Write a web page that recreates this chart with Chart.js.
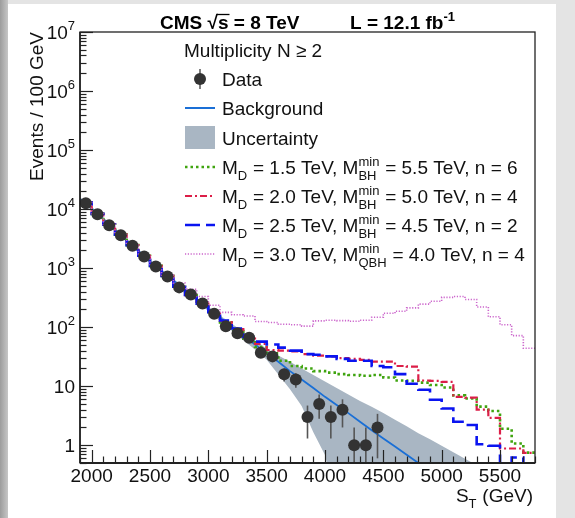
<!DOCTYPE html>
<html><head><meta charset="utf-8">
<script src="https://cdn.jsdelivr.net/npm/chart.js@4.4.1/dist/chart.umd.min.js"></script>
<style>
html,body{margin:0;padding:0;width:575px;height:518px;overflow:hidden;background:#e4e4e4;}
#strip{position:absolute;left:0;top:0;width:8px;height:518px;background:linear-gradient(to right,#9c9c9c,#c6c6c6);}
#panel{position:absolute;left:8px;top:4px;width:548px;height:514px;background:#fff;}
canvas{position:absolute;left:0;top:0;}
</style></head><body>
<div id="strip"></div><div id="panel"></div>
<canvas id="c" width="575" height="518"></canvas>
<script>
// ---------------- data ----------------
const binCenters = [1950,2050,2150,2250,2350,2450,2550,2650,2750,2850,2950,3050,3150,3250,3350,3450,3550,3650,3750,3850,3950,4050,4150,4250,4350,4450,4550,4650,4750,4850,4950,5050,5150,5250,5350,5450,5550,5650,5750];

const dataSt     = [1950,2050,2150,2250,2350,2450,2550,2650,2750,2850,2950,3050,3150,3250,3350,3450,3550,3650,3750,3850,3950,4050,4150,4250,4350,4450];
const dataCounts = [12600,8200,5350,3620,2390,1580,1070,724,472,356,251,168,104,79,66,37,32,16,13,3,5,3,4,1,1,2];
const dataErr    = [112,91,73,60,49,40,33,27,22,19,16,13,10,9,8,6,5.7,4,3.6,1.7,2.2,1.7,2,1,1,1.4];

const bkgSt  = [1900,2000,2100,2200,2300,2400,2500,2600,2700,2800,2900,3000,3100,3200,3300,3400,3500,3600,3700,3800,3900,4000,4100,4200,4300,4400,4500,4600,4700,4800];
const bkgFit = [14800,10200,6760,4470,2950,1950,1290,891,617,427,295,204,145,102,72,51,36,26,18,13,9.3,6.6,4.8,3.5,2.5,1.8,1.3,0.95,0.69,0.50];

const bandSt = [1900,2000,2100,2200,2300,2400,2500,2600,2700,2800,2900,3000,3100,3200,3300,3400,3500,3600,3700,3800,3900,4000,4100,4200,4300,4400,4500,4600,4700,4800,4900,5000,5100,5200,5300];
const bandUp = [15800,11000,7240,4790,3160,2090,1380,955,661,457,316,224,158,115,83,60,43,33,26,20,15.5,12,9.3,7.2,5.6,4.5,3.5,2.7,2.1,1.6,1.26,0.98,0.76,0.59,0.46];
const bandLo = [13800,9550,6310,4170,2750,1820,1200,832,575,398,275,186,126,87,60,42,28,15.8,8.9,4.6,1.66,0.68,0.1,0.1,0.1,0.1,0.1,0.1,0.1,0.1,0.1,0.1,0.1,0.1,0.1];

const sigMD15 = [12900,8300,5500,3700,2450,1620,1090,740,485,350,250,172,120,86,64,46,36,27,22,20,18,17,16,15.5,15,15.5,14,12.5,12.3,11.5,10.5,9.5,7.0,6.2,4.5,3.8,1.9,1.07,0.75];
const sigMD20 = [12900,8300,5500,3700,2450,1620,1090,740,485,350,250,178,128,93,68,52,41,40,39,35,33,32,30,29,28,26,26,22,21.5,12.5,12.3,11.8,6.6,6.4,4.0,2.9,0.88,0.88,0.74];
const sigMD25 = [12900,8300,5500,3700,2450,1620,1090,740,485,350,250,180,130,95,68,57,51,45,40,35,34,32,29,27,27,22,21,16,11,8.7,5.9,4.2,2.5,2.2,1.04,0.98,0.3,0.62,0.4];
const sigMD30 = [12900,8300,5500,3700,2450,1620,1090,760,560,440,330,235,178,162,155,125,120,112,110,104,128,131,129,126,131,147,172,186,212,246,274,320,330,295,220,150,110,72,44];

const xTickValues = [2000,2500,3000,3500,4000,4500,5000,5500];
const yTickValues = [1,10,100,1e3,1e4,1e5,1e6,1e7];
const yTickLabels = ['1','10','10^2','10^3','10^4','10^5','10^6','10^7'];

// ---------------- styles ----------------
const FONT = '"Liberation Sans", Arial, Helvetica, sans-serif';
const C_BKG = '#1a6fd6', C_BAND = '#a9b6c3', C_DATA = '#333333';
const ST_MD15 = {color:'#3fa40f', width:2.6, dash:[2.5,3]};
const ST_MD20 = {color:'#dc1e48', width:2.2, dash:[7,3,2,3]};
const ST_MD25 = {color:'#0a14f0', width:2.6, dash:[15,6]};
const ST_MD30 = {color:'#cc66cc', width:1.6, dash:[1.2,1.6]};

function hist(vals){
  const pts = vals.map((v,i)=>({x:binCenters[i]-50, y:v}));
  pts.push({x:binCenters[binCenters.length-1]+50, y:vals[vals.length-1]});
  return pts;
}
function pairs(xs, ys){ return xs.map((x,i)=>({x:x, y:ys[i]})); }
function histDs(vals, st, order){
  return {data:hist(vals), stepped:true, borderColor:st.color, borderWidth:st.width, borderDash:st.dash,
          pointRadius:0, fill:false, order:order};
}

function richText(ctx, x, y, parts, size, bold, measureOnly){
  const base = (bold?'bold ':'') + size + 'px ' + FONT;
  const small = (bold?'bold ':'') + Math.round(size*0.68) + 'px ' + FONT;
  ctx.textAlign = 'left'; ctx.textBaseline = 'alphabetic';
  let cx = x;
  for (const p of parts){
    if (typeof p === 'string'){
      ctx.font = base;
      if (!measureOnly) ctx.fillText(p, cx, y);
      cx += ctx.measureText(p).width;
    } else {
      ctx.font = small; let w = 0;
      if (p.sub){ if(!measureOnly) ctx.fillText(p.sub, cx, y + size*0.32); w = Math.max(w, ctx.measureText(p.sub).width); }
      if (p.sup){ if(!measureOnly) ctx.fillText(p.sup, cx, y - size*0.42); w = Math.max(w, ctx.measureText(p.sup).width); }
      cx += w + 0.5;
    }
  }
  return cx - x;
}

const legendHeader = 'Multiplicity N \u2265 2';
const legendItems = [
  {kind:'data', parts:['Data']},
  {kind:'line', style:{color:C_BKG, width:2, dash:[]}, parts:['Background']},
  {kind:'box', parts:['Uncertainty']},
  {kind:'line', style:ST_MD15, parts:['M',{sub:'D'},' = 1.5 TeV, M',{sub:'BH',sup:'min'},' = 5.5 TeV, n = 6']},
  {kind:'line', style:ST_MD20, parts:['M',{sub:'D'},' = 2.0 TeV, M',{sub:'BH',sup:'min'},' = 5.0 TeV, n = 4']},
  {kind:'line', style:ST_MD25, parts:['M',{sub:'D'},' = 2.5 TeV, M',{sub:'BH',sup:'min'},' = 4.5 TeV, n = 2']},
  {kind:'line', style:ST_MD30, parts:['M',{sub:'D'},' = 3.0 TeV, M',{sub:'QBH',sup:'min'},' = 4.0 TeV, n = 4']}
];

const rootPlugin = {
  id:'rootStyle',
  beforeDatasetDraw(chart, args){
    if (args.index !== 0) return;
    const ctx = chart.ctx, xs = chart.scales.x, ys = chart.scales.y, a = chart.chartArea;
    ctx.save();
    ctx.beginPath(); ctx.rect(a.left, a.top, a.right-a.left, a.bottom-a.top); ctx.clip();
    ctx.strokeStyle = '#555'; ctx.lineWidth = 1.6;
    dataSt.forEach((s,i)=>{
      const x = xs.getPixelForValue(s);
      const hi = dataCounts[i] + dataErr[i], lo = dataCounts[i] - dataErr[i];
      const y1 = ys.getPixelForValue(hi);
      const y2 = lo > 0 ? ys.getPixelForValue(lo) : a.bottom + 5;
      ctx.beginPath(); ctx.moveTo(x, y1); ctx.lineTo(x, y2); ctx.stroke();
    });
    ctx.restore();
  },
  afterDraw(chart){
    const ctx = chart.ctx, xs = chart.scales.x, ys = chart.scales.y, a = chart.chartArea;
    ctx.save();
    // frame
    ctx.strokeStyle = '#222'; ctx.lineWidth = 1.3;
    ctx.strokeRect(a.left, a.top, a.right-a.left, a.bottom-a.top);
    ctx.lineWidth = 2.2;
    ctx.beginPath(); ctx.moveTo(a.left, a.bottom); ctx.lineTo(a.right, a.bottom); ctx.stroke();
    ctx.lineWidth = 1.6;
    ctx.beginPath(); ctx.moveTo(a.left, a.top); ctx.lineTo(a.left, a.bottom); ctx.stroke();
    // y ticks
    ctx.lineWidth = 1.2; ctx.strokeStyle = '#222';
    for (let d = -1; d <= 7; d++){
      for (let m = 1; m <= 9; m++){
        const v = m * Math.pow(10, d);
        if (v < 0.5 || v > 1e7 * 1.0001) continue;
        const y = Math.round(ys.getPixelForValue(v)) + 0.5;
        const len = m === 1 ? 13 : 6.5;
        ctx.beginPath(); ctx.moveTo(a.left, y); ctx.lineTo(a.left + len, y); ctx.stroke();
      }
    }
    // x ticks
    for (let v = 1900; v <= 5800; v += 100){
      const x = Math.round(xs.getPixelForValue(v)) + 0.5;
      const len = v % 500 === 0 ? 13 : 6.5;
      ctx.beginPath(); ctx.moveTo(x, a.bottom); ctx.lineTo(x, a.bottom - len); ctx.stroke();
    }
    ctx.fillStyle = '#111';
    // x labels
    ctx.font = '19px ' + FONT; ctx.textAlign = 'center'; ctx.textBaseline = 'alphabetic';
    xTickValues.forEach(v => ctx.fillText(String(v), xs.getPixelForValue(v), 482));
    // y labels
    yTickValues.forEach((v,i) => {
      const y = ys.getPixelForValue(v);
      const lab = yTickLabels[i];
      const right = 75;
      if (lab.indexOf('^') < 0){
        ctx.font = '19px ' + FONT; ctx.textAlign = 'right';
        ctx.fillText(lab, right, y + 7);
      } else {
        const [b, e] = lab.split('^');
        ctx.font = '13px ' + FONT; const we = ctx.measureText(e).width;
        ctx.textAlign = 'right'; ctx.fillText(e, right, y - 2);
        ctx.font = '19px ' + FONT; ctx.fillText(b, right - we, y + 7);
      }
    });
    // axis titles
    ctx.save();
    ctx.translate(43, 32); ctx.rotate(-Math.PI/2);
    ctx.font = '19px ' + FONT; ctx.textAlign = 'right'; ctx.textBaseline = 'alphabetic';
    ctx.fillText('Events / 100 GeV', 0, 0);
    ctx.restore();
    const xtParts = ['S',{sub:'T'},' (GeV)'];
    const wxt = richText(ctx, 0, 0, xtParts, 19, false, true);
    richText(ctx, 533 - wxt, 502, xtParts, 19, false, false);
    // title
    ctx.fillStyle = '#000';
    const t1 = 'CMS \u221As = 8 TeV';
    ctx.font = 'bold 19px ' + FONT; ctx.textAlign = 'left';
    ctx.fillText(t1, 160, 29);
    const wPre = ctx.measureText('CMS \u221A').width, wS = ctx.measureText('s').width;
    ctx.lineWidth = 1.3; ctx.strokeStyle = '#000';
    ctx.beginPath(); ctx.moveTo(160 + wPre - 1, 14.5); ctx.lineTo(160 + wPre + wS + 1, 14.5); ctx.stroke();
    richText(ctx, 350, 29, ['L = 12.1 fb',{sup:'-1'}], 19, true, false);
    // legend
    ctx.fillStyle = '#111';
    ctx.font = '19px ' + FONT; ctx.textAlign = 'left';
    ctx.fillText(legendHeader, 184, 57);
    const ys0 = [79,108,138,167,196,225,254];
    const sx0 = 185, sx1 = 215, tx = 222;
    legendItems.forEach((it, k) => {
      const y = ys0[k];
      if (it.kind === 'data'){
        ctx.strokeStyle = '#555'; ctx.lineWidth = 1.5; ctx.setLineDash([]);
        ctx.beginPath(); ctx.moveTo(200, y - 10); ctx.lineTo(200, y + 10); ctx.stroke();
        ctx.fillStyle = C_DATA; ctx.beginPath(); ctx.arc(200, y, 6, 0, Math.PI*2); ctx.fill();
      } else if (it.kind === 'box'){
        ctx.fillStyle = C_BAND; ctx.fillRect(sx0, y - 12, sx1 - sx0, 23);
      } else {
        ctx.strokeStyle = it.style.color; ctx.lineWidth = it.style.width; ctx.setLineDash(it.style.dash);
        ctx.beginPath(); ctx.moveTo(sx0, y); ctx.lineTo(sx1, y); ctx.stroke(); ctx.setLineDash([]);
      }
      ctx.fillStyle = '#111';
      richText(ctx, tx, y + 7, it.parts, 19, false, false);
    });
    ctx.restore();
  }
};

new Chart(document.getElementById('c'), {
  type:'line',
  data:{datasets:[
    {data:pairs(dataSt, dataCounts), showLine:false, pointRadius:6, pointHoverRadius:6,
     pointBackgroundColor:C_DATA, pointBorderColor:C_DATA, pointBorderWidth:0, order:0},
    histDs(sigMD30, ST_MD30, 1),
    histDs(sigMD25, ST_MD25, 2),
    histDs(sigMD20, ST_MD20, 3),
    histDs(sigMD15, ST_MD15, 4),
    {data:pairs(bkgSt, bkgFit), borderColor:C_BKG, borderWidth:1.8, pointRadius:0, tension:0, fill:false, order:5},
    {data:pairs(bandSt, bandLo), borderWidth:0, borderColor:'rgba(0,0,0,0)', pointRadius:0, fill:false, order:7},
    {data:pairs(bandSt, bandUp), borderWidth:0, borderColor:'rgba(0,0,0,0)', backgroundColor:C_BAND, pointRadius:0, fill:'-1', order:6}
  ]},
  options:{
    responsive:false, animation:false, devicePixelRatio:1,
    layout:{padding:{top:32, right:40, left:0, bottom:0}},
    plugins:{legend:{display:false}, tooltip:{enabled:false}},
    events:[],
    scales:{
      x:{type:'linear', min:1900, max:5800, grid:{display:false, drawTicks:false}, border:{display:false},
         ticks:{display:false}, afterFit(s){ s.height = 55; }},
      y:{type:'logarithmic', min:0.5, max:1e7, grid:{display:false, drawTicks:false}, border:{display:false},
         ticks:{display:false}, afterFit(s){ s.width = 80; }}
    }
  },
  plugins:[rootPlugin]
});
</script>
</body></html>
